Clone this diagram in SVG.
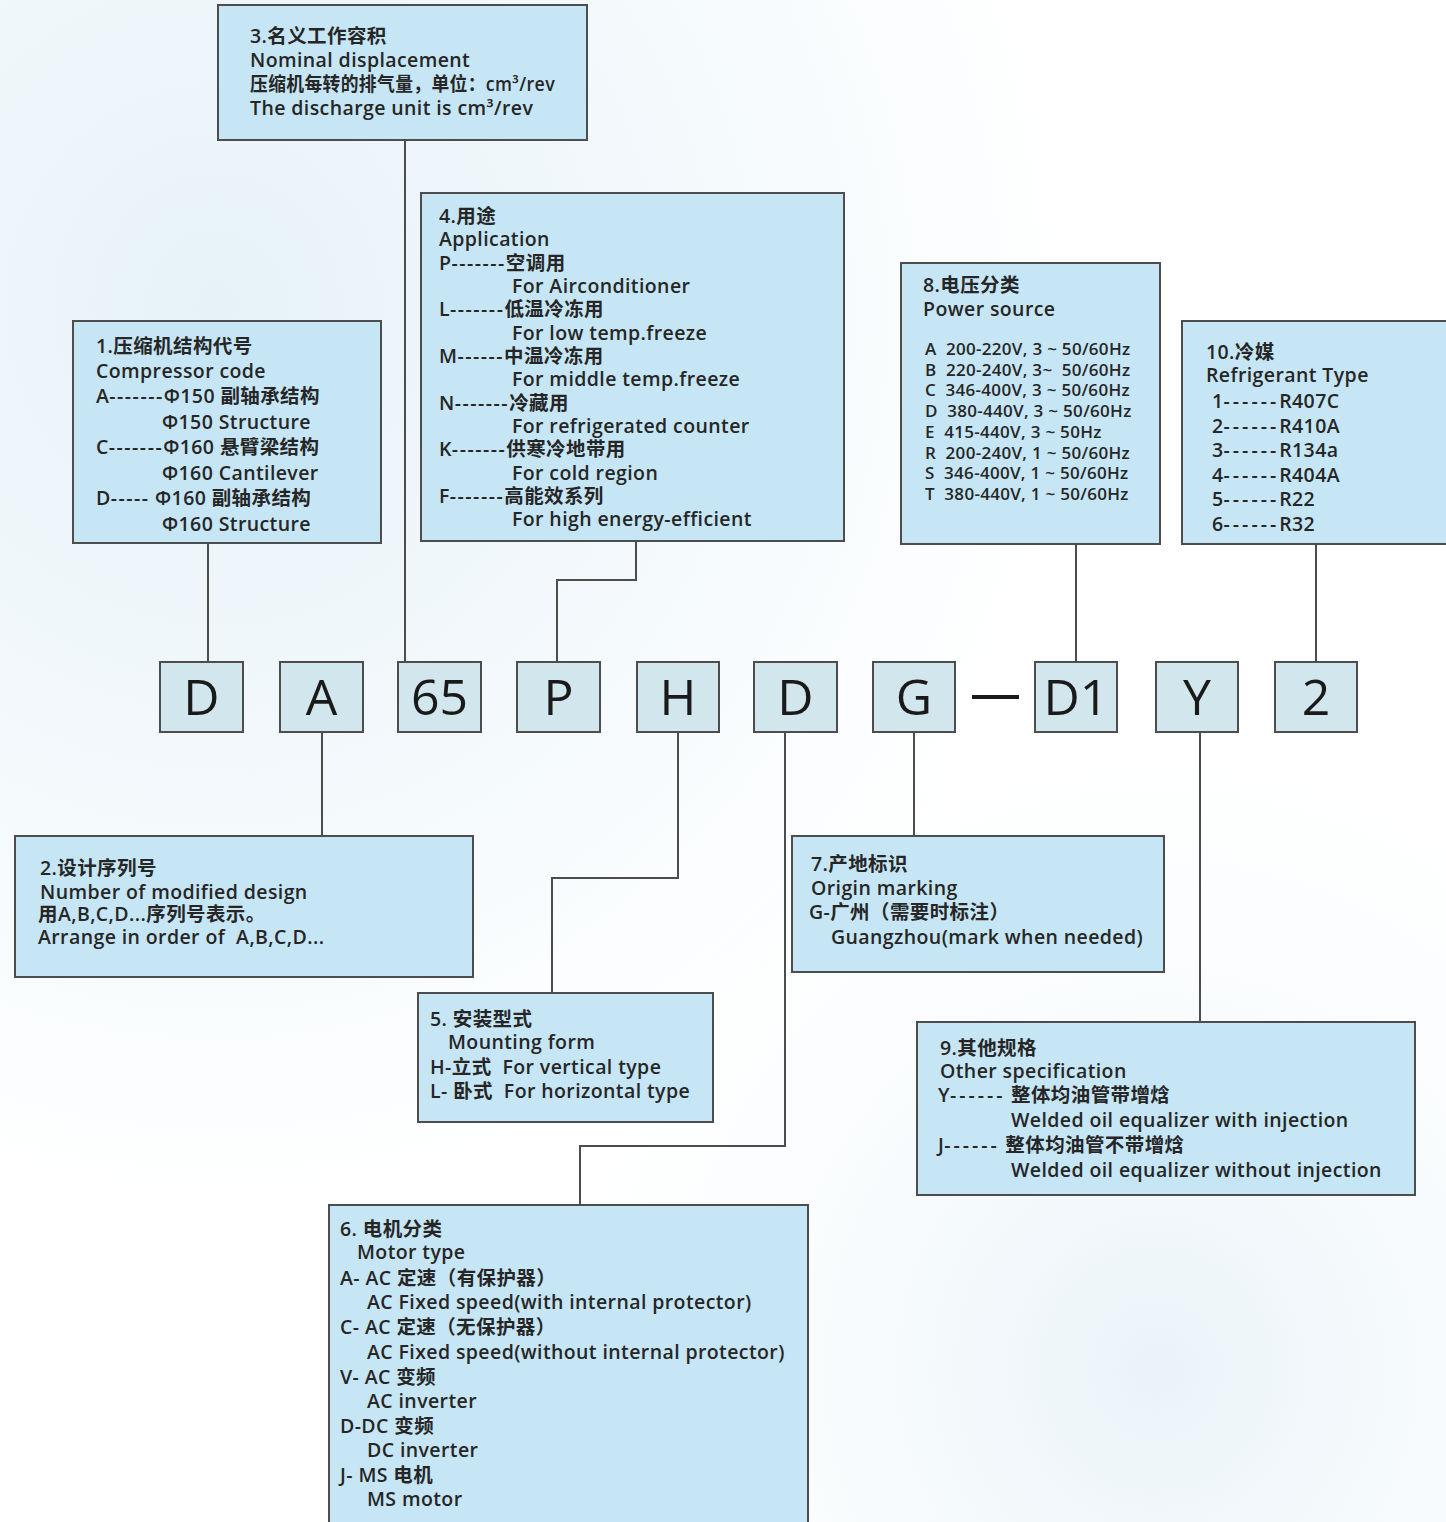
<svg xmlns="http://www.w3.org/2000/svg" width="1446" height="1522" viewBox="0 0 1446 1522">
<defs>
<radialGradient id="bg1" cx="0.15" cy="0.2" r="0.6">
<stop offset="0" stop-color="#e6f2f8"/>
<stop offset="1" stop-color="#ffffff"/>
</radialGradient>
<radialGradient id="bg2" cx="0.8" cy="0.9" r="0.5">
<stop offset="0" stop-color="#e9f3f8"/>
<stop offset="1" stop-color="#ffffff" stop-opacity="0"/>
</radialGradient>
<style>
.box{fill:#c6e6f6;stroke:#4d4d4d;stroke-width:2}
.code{fill:#d2e6ed;stroke:#4d4d4d;stroke-width:2}
.t{font-family:"Open Sans","Noto Sans CJK SC",sans-serif;font-size:19.5px;letter-spacing:0.4px;font-weight:600;fill:#262626;white-space:pre}
.s{font-size:17px;letter-spacing:0.3px}
.d{letter-spacing:1.5px}
.d2{letter-spacing:3px}
.c{font-family:"Open Sans","Noto Sans",sans-serif;font-size:50px;fill:#1a1a1a;text-anchor:middle}
.ln{fill:none;stroke:#4d4d4d;stroke-width:2}
</style>
</defs>
<rect width="1446" height="1522" fill="url(#bg1)"/>
<rect width="1446" height="1522" fill="url(#bg2)"/>

<g id="connectors">
<path class="ln" d="M405 140V662"/>
<path class="ln" d="M636 541V580H557V662"/>
<path class="ln" d="M208 543V662"/>
<path class="ln" d="M1076 544V662"/>
<path class="ln" d="M1316 544V662"/>
<path class="ln" d="M322 732V836"/>
<path class="ln" d="M678 732V878H552V993"/>
<path class="ln" d="M785 732V1146H580V1205"/>
<path class="ln" d="M914 732V836"/>
<path class="ln" d="M1200 732V1022"/>
</g>

<g id="code">
<g id="c-D"><rect class="code" x="160" y="662" width="83" height="70"/><text class="c" x="201.5" y="715">D</text></g>
<g id="c-A"><rect class="code" x="280" y="662" width="83" height="70"/><text class="c" x="321.5" y="715">A</text></g>
<g id="c-65"><rect class="code" x="398" y="662" width="83" height="70"/><text class="c" x="439.5" y="715">65</text></g>
<g id="c-P"><rect class="code" x="517" y="662" width="83" height="70"/><text class="c" x="558.5" y="715">P</text></g>
<g id="c-H"><rect class="code" x="637" y="662" width="82" height="70"/><text class="c" x="678" y="715">H</text></g>
<g id="c-D2"><rect class="code" x="754" y="662" width="83" height="70"/><text class="c" x="795.5" y="715">D</text></g>
<g id="c-G"><rect class="code" x="873" y="662" width="82" height="70"/><text class="c" x="914" y="715">G</text></g>
<g id="c-dash"><rect x="972" y="695" width="47" height="4" fill="#1a1a1a"/></g>
<g id="c-D1"><rect class="code" x="1035" y="662" width="82" height="70"/><text class="c" x="1076" y="715">D1</text></g>
<g id="c-Y"><rect class="code" x="1156" y="662" width="82" height="70"/><text class="c" x="1197" y="715">Y</text></g>
<g id="c-2"><rect class="code" x="1275" y="662" width="82" height="70"/><text class="c" x="1316" y="715">2</text></g>
</g>

<g id="box3">
<rect class="box" x="218" y="5" width="369" height="135"/>
<text class="t" x="250" y="43">3.名义工作容积</text>
<text class="t" x="250" y="67">Nominal displacement</text>
<text class="t" x="250" y="91" textLength="305" lengthAdjust="spacingAndGlyphs">压缩机每转的排气量，单位：cm³/rev</text>
<text class="t" x="250" y="115">The discharge unit is cm³/rev</text>
</g>

<g id="box4">
<rect class="box" x="421" y="193" width="423" height="348"/>
<text class="t" x="439" y="223">4.用途</text>
<text class="t" x="439" y="246">Application</text>
<text class="t" x="439" y="270">P<tspan class="d">-------</tspan>空调用</text>
<text class="t" x="512" y="293">For Airconditioner</text>
<text class="t" x="439" y="316">L<tspan class="d">-------</tspan>低温冷冻用</text>
<text class="t" x="512" y="340">For low temp.freeze</text>
<text class="t" x="439" y="363">M<tspan class="d">------</tspan>中温冷冻用</text>
<text class="t" x="512" y="386">For middle temp.freeze</text>
<text class="t" x="439" y="410">N<tspan class="d">-------</tspan>冷藏用</text>
<text class="t" x="512" y="433">For refrigerated counter</text>
<text class="t" x="439" y="456">K<tspan class="d">-------</tspan>供寒冷地带用</text>
<text class="t" x="512" y="480">For cold region</text>
<text class="t" x="439" y="503">F<tspan class="d">-------</tspan>高能效系列</text>
<text class="t" x="512" y="526">For high energy-efficient</text>
</g>

<g id="box1">
<rect class="box" x="73" y="321" width="308" height="222"/>
<text class="t" x="96" y="353">1.压缩机结构代号</text>
<text class="t" x="96" y="378">Compressor code</text>
<text class="t" x="96" y="403">A<tspan class="d">-------</tspan>Φ150 副轴承结构</text>
<text class="t" x="162" y="429">Φ150 Structure</text>
<text class="t" x="96" y="454">C<tspan class="d">-------</tspan>Φ160 悬臂梁结构</text>
<text class="t" x="162" y="480">Φ160 Cantilever</text>
<text class="t" x="96" y="505">D<tspan class="d">-----</tspan> Φ160 副轴承结构</text>
<text class="t" x="162" y="531">Φ160 Structure</text>
</g>

<g id="box8">
<rect class="box" x="901" y="263" width="259" height="281"/>
<text class="t" x="923" y="292">8.电压分类</text>
<text class="t" x="923" y="316" font-weight="500">Power source</text>
<text class="t s" x="925" y="355">A  200-220V, 3 ~ 50/60Hz</text>
<text class="t s" x="925" y="376">B  220-240V, 3~  50/60Hz</text>
<text class="t s" x="925" y="396">C  346-400V, 3 ~ 50/60Hz</text>
<text class="t s" x="925" y="417">D  380-440V, 3 ~ 50/60Hz</text>
<text class="t s" x="925" y="438">E  415-440V, 3 ~ 50Hz</text>
<text class="t s" x="925" y="459">R  200-240V, 1 ~ 50/60Hz</text>
<text class="t s" x="925" y="479">S  346-400V, 1 ~ 50/60Hz</text>
<text class="t s" x="925" y="500">T  380-440V, 1 ~ 50/60Hz</text>
</g>

<g id="box10">
<rect class="box" x="1182" y="321" width="270" height="223"/>
<text class="t" x="1206" y="359">10.冷媒</text>
<text class="t" x="1206" y="382">Refrigerant Type</text>
<text class="t" x="1212" y="408">1<tspan class="d2">------</tspan>R407C</text>
<text class="t" x="1212" y="433">2<tspan class="d2">------</tspan>R410A</text>
<text class="t" x="1212" y="457">3<tspan class="d2">------</tspan>R134a</text>
<text class="t" x="1212" y="482">4<tspan class="d2">------</tspan>R404A</text>
<text class="t" x="1212" y="506">5<tspan class="d2">------</tspan>R22</text>
<text class="t" x="1212" y="531">6<tspan class="d2">------</tspan>R32</text>
</g>

<g id="box2">
<rect class="box" x="15" y="836" width="458" height="141"/>
<text class="t" x="40" y="875">2.设计序列号</text>
<text class="t" x="40" y="899">Number of modified design</text>
<text class="t" x="38" y="921">用A,B,C,D...序列号表示。</text>
<text class="t" x="38" y="944">Arrange in order of  A,B,C,D...</text>
</g>

<g id="box7">
<rect class="box" x="792" y="836" width="372" height="136"/>
<text class="t" x="811" y="871">7.产地标识</text>
<text class="t" x="811" y="895">Origin marking</text>
<text class="t" x="809" y="919">G-广州（需要时标注）</text>
<text class="t" x="831" y="944">Guangzhou(mark when needed)</text>
</g>

<g id="box5">
<rect class="box" x="418" y="993" width="295" height="129"/>
<text class="t" x="430" y="1026">5. 安装型式</text>
<text class="t" x="448" y="1049">Mounting form</text>
<text class="t" x="430" y="1074">H-立式  For vertical type</text>
<text class="t" x="430" y="1098">L- 卧式  For horizontal type</text>
</g>

<g id="box9">
<rect class="box" x="917" y="1022" width="498" height="173"/>
<text class="t" x="940" y="1055">9.其他规格</text>
<text class="t" x="940" y="1078">Other specification</text>
<text class="t" x="938" y="1102">Y<tspan class="d2">------</tspan> 整体均油管带增焓</text>
<text class="t" x="1011" y="1127">Welded oil equalizer with injection</text>
<text class="t" x="938" y="1152">J<tspan class="d2">------</tspan> 整体均油管不带增焓</text>
<text class="t" x="1011" y="1177">Welded oil equalizer without injection</text>
</g>

<g id="box6">
<rect class="box" x="329" y="1205" width="479" height="330"/>
<text class="t" x="340" y="1236">6. 电机分类</text>
<text class="t" x="357" y="1259">Motor type</text>
<text class="t" x="340" y="1285">A- AC 定速（有保护器）</text>
<text class="t" x="367" y="1309">AC Fixed speed(with internal protector)</text>
<text class="t" x="340" y="1334">C- AC 定速（无保护器）</text>
<text class="t" x="367" y="1359">AC Fixed speed(without internal protector)</text>
<text class="t" x="340" y="1384">V- AC 变频</text>
<text class="t" x="367" y="1408">AC inverter</text>
<text class="t" x="340" y="1433">D-DC 变频</text>
<text class="t" x="367" y="1457">DC inverter</text>
<text class="t" x="340" y="1482">J- MS 电机</text>
<text class="t" x="367" y="1506">MS motor</text>
</g>
</svg>
